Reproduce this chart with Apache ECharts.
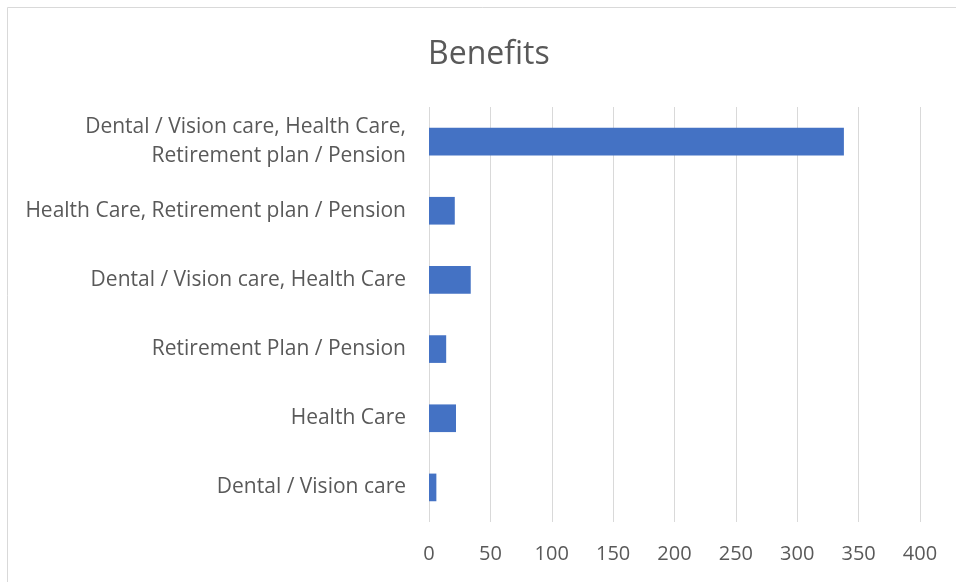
<!DOCTYPE html>
<html>
<head>
<meta charset="utf-8">
<script src="https://cdn.jsdelivr.net/npm/echarts@6/dist/echarts.min.js"></script>
<style>
html,body{margin:0;padding:0;background:#fff;}
#chart{width:956px;height:582px;}
</style>
</head>
<body>
<div id="chart"></div>
<script>
const categories = [
  "Dental / Vision care",
  "Health Care",
  "Retirement Plan / Pension",
  "Dental / Vision care, Health Care",
  "Health Care, Retirement plan / Pension",
  "Dental / Vision care, Health Care, Retirement plan / Pension"
];
const values = [6, 22, 14, 34, 21, 338];
const xTicks = { min: 0, max: 400, interval: 50 };

const chart = echarts.init(document.getElementById('chart'));
chart.setOption({
  animation: false,
  backgroundColor: '#ffffff',
  textStyle: { fontFamily: 'Open Sans, Noto Sans, sans-serif' },
  title: {
    text: 'Benefits',
    left: 423,
    top: 34,
    textStyle: { fontSize: 32, fontWeight: 'normal', color: '#595959', fontFamily: 'Open Sans, Noto Sans, sans-serif' }
  },
  graphic: [{
    type: 'rect',
    shape: { x: 7.5, y: 7.5, width: 960, height: 600 },
    style: { fill: 'none', stroke: '#d9d9d9', lineWidth: 1 },
    silent: true
  }],
  grid: { left: 429, right: 36, top: 107, bottom: 60, containLabel: false },
  xAxis: {
    type: 'value',
    min: xTicks.min, max: xTicks.max, interval: xTicks.interval,
    axisLine: { show: false },
    axisTick: { show: false },
    splitLine: { show: true, lineStyle: { color: '#d9d9d9', width: 1 } },
    axisLabel: { color: '#595959', fontSize: 20, margin: 22 }
  },
  yAxis: {
    type: 'category',
    data: categories,
    axisLine: { show: false },
    axisTick: { show: false },
    axisLabel: {
      color: '#595959', fontSize: 21, margin: 23, lineHeight: 29, align: 'right',
      formatter: v => v.startsWith('Dental / Vision care, Health Care, ') ? v.replace('Health Care, Retirement', 'Health Care,\nRetirement') : v
    }
  },
  series: [{
    type: 'bar',
    data: values,
    barCategoryGap: '60%',
    itemStyle: { color: '#4472C4' }
  }]
});
</script>
</body>
</html>
